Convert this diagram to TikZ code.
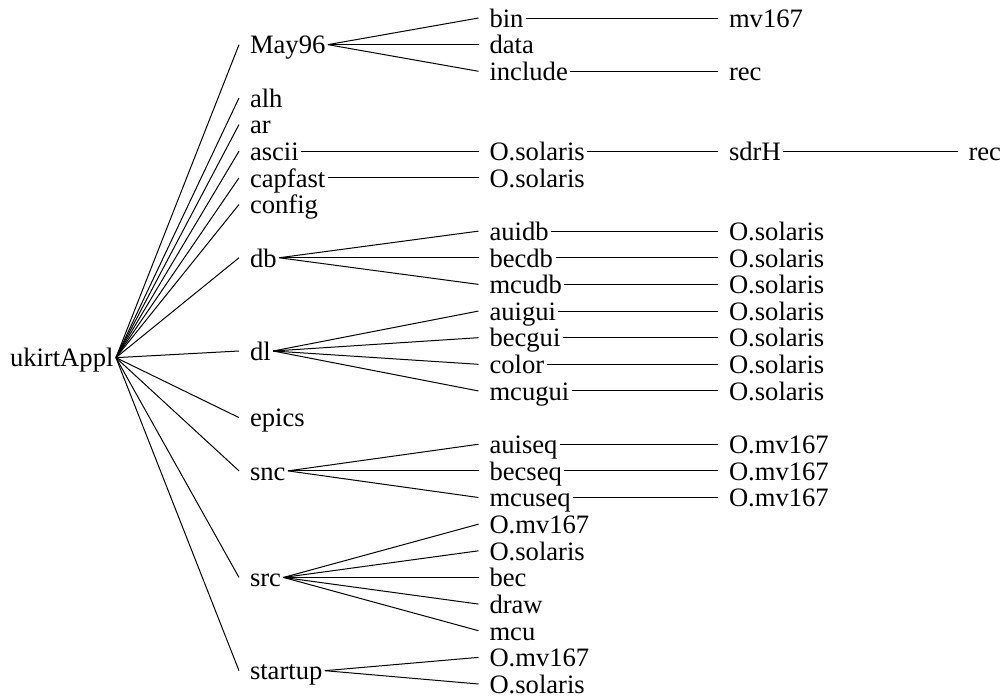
\documentclass[tikz,border=0pt]{standalone}
\usepackage{fontspec}
\setmainfont{Liberation Serif}
\newcommand\rowy[1]{{18+26.64*(#1)}}
\newcommand\conn[2]{\draw ([xshift=2.5pt]#1.east) -- ([xshift=-11pt]#2.west);}
\begin{document}
\begin{tikzpicture}[x=1pt,y=-1pt,
  lbl/.style={anchor=west, inner sep=0pt, outer sep=0pt, text height=18.6pt, text depth=0pt,
    font=\fontsize{26.6}{26.6}\selectfont},
  every path/.style={line width=1pt}]
\useasboundingbox (0,0) rectangle (1005,696);
% column x positions
\def\ca{10}\def\cb{250}\def\cc{489.5}\def\cd{729}\def\ce{968.5}
% root
\node[lbl] (root) at (\ca,\rowy{12.75}) {ukirtAppl};
% level 2
\node[lbl] (may) at (\cb,\rowy{1}) {May96};
\node[lbl] (alh) at (\cb,\rowy{3}) {alh};
\node[lbl] (ar) at (\cb,\rowy{4}) {ar};
\node[lbl] (ascii) at (\cb,\rowy{5}) {ascii};
\node[lbl] (capfast) at (\cb,\rowy{6}) {capfast};
\node[lbl] (config) at (\cb,\rowy{7}) {config};
\node[lbl] (db) at (\cb,\rowy{9}) {db};
\node[lbl] (dl) at (\cb,\rowy{12.5}) {dl};
\node[lbl] (epics) at (\cb,\rowy{15}) {epics};
\node[lbl] (snc) at (\cb,\rowy{17}) {snc};
\node[lbl] (src) at (\cb,\rowy{21}) {src};
\node[lbl] (startup) at (\cb,\rowy{24.5}) {startup};
% level 3
\node[lbl] (bin) at (\cc,\rowy{0}) {bin};
\node[lbl] (data) at (\cc,\rowy{1}) {data};
\node[lbl] (include) at (\cc,\rowy{2}) {include};
\node[lbl] (asciiO) at (\cc,\rowy{5}) {O.solaris};
\node[lbl] (capO) at (\cc,\rowy{6}) {O.solaris};
\node[lbl] (auidb) at (\cc,\rowy{8}) {auidb};
\node[lbl] (becdb) at (\cc,\rowy{9}) {becdb};
\node[lbl] (mcudb) at (\cc,\rowy{10}) {mcudb};
\node[lbl] (auigui) at (\cc,\rowy{11}) {auigui};
\node[lbl] (becgui) at (\cc,\rowy{12}) {becgui};
\node[lbl] (color) at (\cc,\rowy{13}) {color};
\node[lbl] (mcugui) at (\cc,\rowy{14}) {mcugui};
\node[lbl] (auiseq) at (\cc,\rowy{16}) {auiseq};
\node[lbl] (becseq) at (\cc,\rowy{17}) {becseq};
\node[lbl] (mcuseq) at (\cc,\rowy{18}) {mcuseq};
\node[lbl] (srcmv) at (\cc,\rowy{19}) {O.mv167};
\node[lbl] (srcsol) at (\cc,\rowy{20}) {O.solaris};
\node[lbl] (bec) at (\cc,\rowy{21}) {bec};
\node[lbl] (draw) at (\cc,\rowy{22}) {draw};
\node[lbl] (mcu) at (\cc,\rowy{23}) {mcu};
\node[lbl] (stmv) at (\cc,\rowy{24}) {O.mv167};
\node[lbl] (stsol) at (\cc,\rowy{25}) {O.solaris};
% level 4
\node[lbl] (mv) at (\cd,\rowy{0}) {mv167};
\node[lbl] (rec1) at (\cd,\rowy{2}) {rec};
\node[lbl] (sdrH) at (\cd,\rowy{5}) {sdrH};
\node[lbl] (auidbO) at (\cd,\rowy{8}) {O.solaris};
\node[lbl] (becdbO) at (\cd,\rowy{9}) {O.solaris};
\node[lbl] (mcudbO) at (\cd,\rowy{10}) {O.solaris};
\node[lbl] (auiguiO) at (\cd,\rowy{11}) {O.solaris};
\node[lbl] (becguiO) at (\cd,\rowy{12}) {O.solaris};
\node[lbl] (colorO) at (\cd,\rowy{13}) {O.solaris};
\node[lbl] (mcuguiO) at (\cd,\rowy{14}) {O.solaris};
\node[lbl] (auiseqO) at (\cd,\rowy{16}) {O.mv167};
\node[lbl] (becseqO) at (\cd,\rowy{17}) {O.mv167};
\node[lbl] (mcuseqO) at (\cd,\rowy{18}) {O.mv167};
% level 5
\node[lbl] (rec2) at (\ce,\rowy{5}) {rec};
% connectors
\foreach \c in {may,alh,ar,ascii,capfast,config,db,dl,epics,snc,src,startup} {\conn{root}{\c}}
\foreach \c in {bin,data,include} {\conn{may}{\c}}
\conn{bin}{mv}
\conn{include}{rec1}
\conn{ascii}{asciiO}
\conn{asciiO}{sdrH}
\conn{sdrH}{rec2}
\conn{capfast}{capO}
\foreach \c in {auidb,becdb,mcudb} {\conn{db}{\c}}
\foreach \c in {auigui,becgui,color,mcugui} {\conn{dl}{\c}}
\foreach \c in {auiseq,becseq,mcuseq} {\conn{snc}{\c}}
\foreach \c in {srcmv,srcsol,bec,draw,mcu} {\conn{src}{\c}}
\foreach \c in {stmv,stsol} {\conn{startup}{\c}}
\foreach \a/\b in {auidb/auidbO,becdb/becdbO,mcudb/mcudbO,auigui/auiguiO,becgui/becguiO,color/colorO,mcugui/mcuguiO,auiseq/auiseqO,becseq/becseqO,mcuseq/mcuseqO} {\conn{\a}{\b}}
\end{tikzpicture}
\end{document}
